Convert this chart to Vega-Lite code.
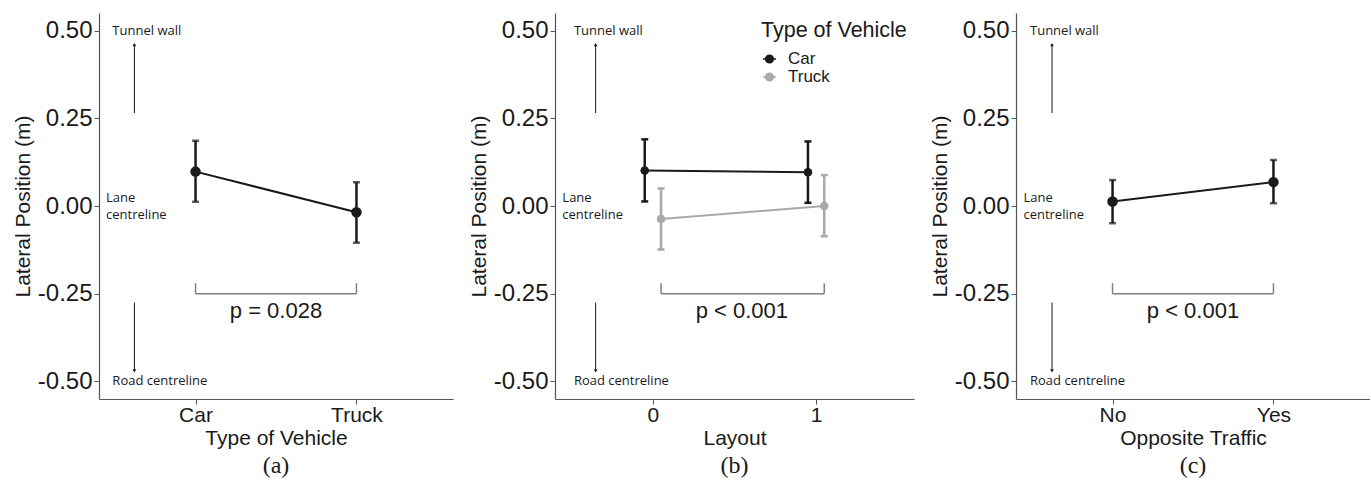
{
  "$schema": "https://vega.github.io/schema/vega-lite/v6.json",
  "padding": {"left": 12, "top": 13, "right": 0, "bottom": 0},
  "background": "white",
  "spacing": 15,
  "datasets": {
    "a_means": [
      {"vehicle": "Car", "x": 1, "mean": 0.098, "lo": 0.012, "hi": 0.186},
      {"vehicle": "Truck", "x": 2, "mean": -0.018, "lo": -0.105, "hi": 0.068}
    ],
    "a_text": [
      {"x": 0.483, "y": 0.5, "label": "Tunnel wall"},
      {"x": 0.483, "y": -0.5, "label": "Road centreline"},
      {"x": 0.444, "y": 0.024, "label": "Lane"},
      {"x": 0.444, "y": -0.026, "label": "centreline"}
    ],
    "a_arrows": [
      {"x": 0.62, "y": 0.265, "y2": 0.46, "dir": "up"},
      {"x": 0.62, "y": -0.275, "y2": -0.47, "dir": "down"}
    ],
    "a_bracket": [
      {"x": 1, "x2": 2, "y": -0.25, "y2": -0.25},
      {"x": 1, "x2": 1, "y": -0.25, "y2": -0.22},
      {"x": 2, "x2": 2, "y": -0.25, "y2": -0.22}
    ],
    "a_p": [{"x": 1.5, "y": -0.30, "label": "p = 0.028"}],
    "b_means": [
      {"vehicle": "Car", "layout": 0, "x": -0.05, "mean": 0.101, "lo": 0.013, "hi": 0.19},
      {"vehicle": "Car", "layout": 1, "x": 0.95, "mean": 0.096, "lo": 0.009, "hi": 0.184},
      {"vehicle": "Truck", "layout": 0, "x": 0.05, "mean": -0.037, "lo": -0.124, "hi": 0.05},
      {"vehicle": "Truck", "layout": 1, "x": 1.05, "mean": 0.0, "lo": -0.086, "hi": 0.088}
    ],
    "b_text": [
      {"x": -0.484, "y": 0.5, "label": "Tunnel wall"},
      {"x": -0.484, "y": -0.5, "label": "Road centreline"},
      {"x": -0.555, "y": 0.024, "label": "Lane"},
      {"x": -0.555, "y": -0.026, "label": "centreline"}
    ],
    "b_arrows": [
      {"x": -0.351, "y": 0.265, "y2": 0.46, "dir": "up"},
      {"x": -0.351, "y": -0.275, "y2": -0.47, "dir": "down"}
    ],
    "b_bracket": [
      {"x": 0.05, "x2": 1.05, "y": -0.25, "y2": -0.25},
      {"x": 0.05, "x2": 0.05, "y": -0.25, "y2": -0.22},
      {"x": 1.05, "x2": 1.05, "y": -0.25, "y2": -0.22}
    ],
    "b_p": [{"x": 0.545, "y": -0.30, "label": "p < 0.001"}],
    "c_means": [
      {"traffic": "No", "x": 1, "mean": 0.013, "lo": -0.049, "hi": 0.074},
      {"traffic": "Yes", "x": 2, "mean": 0.068, "lo": 0.008, "hi": 0.131}
    ],
    "c_text": [
      {"x": 0.487, "y": 0.5, "label": "Tunnel wall"},
      {"x": 0.487, "y": -0.5, "label": "Road centreline"},
      {"x": 0.446, "y": 0.024, "label": "Lane"},
      {"x": 0.446, "y": -0.026, "label": "centreline"}
    ],
    "c_arrows": [
      {"x": 0.624, "y": 0.265, "y2": 0.46, "dir": "up"},
      {"x": 0.624, "y": -0.275, "y2": -0.47, "dir": "down"}
    ],
    "c_bracket": [
      {"x": 1, "x2": 2, "y": -0.25, "y2": -0.25},
      {"x": 1, "x2": 1, "y": -0.25, "y2": -0.22},
      {"x": 2, "x2": 2, "y": -0.25, "y2": -0.22}
    ],
    "c_p": [{"x": 1.5, "y": -0.30, "label": "p < 0.001"}]
  },
  "hconcat": [
    {
      "width": 354,
      "height": 386,
      "title": {"text": "(a)", "orient": "bottom", "frame": "group", "anchor": "middle", "font": "Liberation Serif", "fontSize": 24, "fontWeight": "normal", "color": "#1a1a1a", "offset": 6},
      "layer": [
        {
          "mark": {"type": "rule", "strokeDash": [6, 4], "color": "#444", "strokeWidth": 1.2},
          "encoding": {
            "y": {"datum": 0, "type": "quantitative", "scale": {"domain": [-0.55, 0.55], "nice": false, "zero": false},
              "axis": {"title": "Lateral Position (m)", "values": [-0.5, -0.25, 0, 0.25, 0.5], "labelExpr": "datum.value < 0 ? '-' + format(-datum.value, '.2f') : format(datum.value, '.2f')"}}
          }
        },
        {
          "data": {"name": "a_arrows"},
          "mark": {"type": "rule", "color": "#1a1a1a", "strokeWidth": 1},
          "encoding": {
            "x": {"field": "x", "type": "quantitative", "scale": {"domain": [0.4, 2.6], "nice": false, "zero": false},
              "axis": {"title": "Type of Vehicle", "values": [1, 2], "labelExpr": "datum.value == 1 ? 'Car' : 'Truck'"}},
            "y": {"field": "y", "type": "quantitative"},
            "y2": {"field": "y2"}
          }
        },
        {
          "data": {"name": "a_arrows"},
          "mark": {"type": "point", "filled": true, "color": "#1a1a1a", "size": 14, "opacity": 1},
          "encoding": {
            "x": {"field": "x", "type": "quantitative"},
            "y": {"field": "y2", "type": "quantitative"},
            "shape": {"field": "dir", "type": "nominal", "scale": {"domain": ["up", "down"], "range": ["triangle-up", "triangle-down"]}, "legend": null}
          }
        },
        {
          "data": {"name": "a_text"},
          "mark": {"type": "text", "align": "left", "baseline": "middle", "font": "Open Sans", "fontSize": 13, "color": "#1a1a1a"},
          "encoding": {
            "x": {"field": "x", "type": "quantitative"},
            "y": {"field": "y", "type": "quantitative"},
            "text": {"field": "label"}
          }
        },
        {
          "data": {"name": "a_bracket"},
          "mark": {"type": "rule", "color": "#808080", "strokeWidth": 1.5},
          "encoding": {
            "x": {"field": "x", "type": "quantitative"},
            "x2": {"field": "x2"},
            "y": {"field": "y", "type": "quantitative"},
            "y2": {"field": "y2"}
          }
        },
        {
          "data": {"name": "a_p"},
          "mark": {"type": "text", "align": "center", "baseline": "middle", "font": "Liberation Sans", "fontSize": 22, "color": "#1a1a1a"},
          "encoding": {
            "x": {"field": "x", "type": "quantitative"},
            "y": {"field": "y", "type": "quantitative"},
            "text": {"field": "label"}
          }
        },
        {
          "data": {"name": "a_means"},
          "mark": {"type": "rule", "color": "#1a1a1a", "strokeWidth": 2.5},
          "encoding": {
            "x": {"field": "x", "type": "quantitative"},
            "y": {"field": "lo", "type": "quantitative"},
            "y2": {"field": "hi"}
          }
        },
        {
          "data": {"name": "a_means"},
          "mark": {"type": "tick", "orient": "horizontal", "color": "#1a1a1a", "size": 7, "thickness": 2.5},
          "encoding": {
            "x": {"field": "x", "type": "quantitative"},
            "y": {"field": "lo", "type": "quantitative"}
          }
        },
        {
          "data": {"name": "a_means"},
          "mark": {"type": "tick", "orient": "horizontal", "color": "#1a1a1a", "size": 7, "thickness": 2.5},
          "encoding": {
            "x": {"field": "x", "type": "quantitative"},
            "y": {"field": "hi", "type": "quantitative"}
          }
        },
        {
          "data": {"name": "a_means"},
          "mark": {"type": "line", "color": "#1a1a1a", "strokeWidth": 2},
          "encoding": {
            "x": {"field": "x", "type": "quantitative"},
            "y": {"field": "mean", "type": "quantitative"}
          }
        },
        {
          "data": {"name": "a_means"},
          "mark": {"type": "circle", "color": "#1a1a1a", "size": 110, "opacity": 1},
          "encoding": {
            "x": {"field": "x", "type": "quantitative"},
            "y": {"field": "mean", "type": "quantitative"}
          }
        }
      ]
    },
    {
      "width": 359,
      "height": 386,
      "title": {"text": "(b)", "orient": "bottom", "frame": "group", "anchor": "middle", "font": "Liberation Serif", "fontSize": 24, "fontWeight": "normal", "color": "#1a1a1a", "offset": 6},
      "layer": [
        {
          "mark": {"type": "rule", "strokeDash": [6, 4], "color": "#444", "strokeWidth": 1.2},
          "encoding": {
            "y": {"datum": 0, "type": "quantitative", "scale": {"domain": [-0.55, 0.55], "nice": false, "zero": false},
              "axis": {"title": "Lateral Position (m)", "values": [-0.5, -0.25, 0, 0.25, 0.5], "labelExpr": "datum.value < 0 ? '-' + format(-datum.value, '.2f') : format(datum.value, '.2f')"}}
          }
        },
        {
          "data": {"name": "b_arrows"},
          "mark": {"type": "rule", "color": "#1a1a1a", "strokeWidth": 1},
          "encoding": {
            "x": {"field": "x", "type": "quantitative", "scale": {"domain": [-0.6, 1.6], "nice": false, "zero": false},
              "axis": {"title": "Layout", "values": [0, 1], "format": "d"}},
            "y": {"field": "y", "type": "quantitative"},
            "y2": {"field": "y2"}
          }
        },
        {
          "data": {"name": "b_arrows"},
          "mark": {"type": "point", "filled": true, "color": "#1a1a1a", "size": 14, "opacity": 1},
          "encoding": {
            "x": {"field": "x", "type": "quantitative"},
            "y": {"field": "y2", "type": "quantitative"},
            "shape": {"field": "dir", "type": "nominal", "scale": {"domain": ["up", "down"], "range": ["triangle-up", "triangle-down"]}, "legend": null}
          }
        },
        {
          "data": {"name": "b_text"},
          "mark": {"type": "text", "align": "left", "baseline": "middle", "font": "Open Sans", "fontSize": 13, "color": "#1a1a1a"},
          "encoding": {
            "x": {"field": "x", "type": "quantitative"},
            "y": {"field": "y", "type": "quantitative"},
            "text": {"field": "label"}
          }
        },
        {
          "data": {"name": "b_bracket"},
          "mark": {"type": "rule", "color": "#808080", "strokeWidth": 1.5},
          "encoding": {
            "x": {"field": "x", "type": "quantitative"},
            "x2": {"field": "x2"},
            "y": {"field": "y", "type": "quantitative"},
            "y2": {"field": "y2"}
          }
        },
        {
          "data": {"name": "b_p"},
          "mark": {"type": "text", "align": "center", "baseline": "middle", "font": "Liberation Sans", "fontSize": 22, "color": "#1a1a1a"},
          "encoding": {
            "x": {"field": "x", "type": "quantitative"},
            "y": {"field": "y", "type": "quantitative"},
            "text": {"field": "label"}
          }
        },
        {
          "data": {"name": "b_means"},
          "mark": {"type": "rule", "strokeWidth": 2.5},
          "encoding": {
            "x": {"field": "x", "type": "quantitative"},
            "y": {"field": "lo", "type": "quantitative"},
            "y2": {"field": "hi"},
            "color": {"field": "vehicle", "type": "nominal", "scale": {"domain": ["Car", "Truck"], "range": ["#1a1a1a", "#a9a9a9"]},
              "legend": {"title": "Type of Vehicle", "orient": "none", "legendX": 662, "legendY": 7, "titleFont": "Liberation Sans", "titleFontSize": 21.5, "titleFontWeight": "normal", "titleColor": "#1a1a1a", "titlePadding": 9, "labelFont": "Liberation Sans", "labelFontSize": 17, "labelColor": "#1a1a1a", "symbolType": "M-1,0 A1,1 0 1,1 1,0 A1,1 0 1,1 -1,0 Z M-1.7,0 L1.7,0", "symbolSize": 60, "symbolStrokeWidth": 1.5, "symbolFillColor": null, "rowPadding": 0, "labelOffset": 10, "symbolOffset": 0}}
          }
        },
        {
          "data": {"name": "b_means"},
          "mark": {"type": "tick", "orient": "horizontal", "size": 7, "thickness": 2.5, "opacity": 1},
          "encoding": {
            "x": {"field": "x", "type": "quantitative"},
            "y": {"field": "lo", "type": "quantitative"},
            "color": {"field": "vehicle", "type": "nominal"}
          }
        },
        {
          "data": {"name": "b_means"},
          "mark": {"type": "tick", "orient": "horizontal", "size": 7, "thickness": 2.5, "opacity": 1},
          "encoding": {
            "x": {"field": "x", "type": "quantitative"},
            "y": {"field": "hi", "type": "quantitative"},
            "color": {"field": "vehicle", "type": "nominal"}
          }
        },
        {
          "data": {"name": "b_means"},
          "mark": {"type": "line", "strokeWidth": 2},
          "encoding": {
            "x": {"field": "x", "type": "quantitative"},
            "y": {"field": "mean", "type": "quantitative"},
            "color": {"field": "vehicle", "type": "nominal"}
          }
        },
        {
          "data": {"name": "b_means"},
          "mark": {"type": "circle", "size": 75, "opacity": 1},
          "encoding": {
            "x": {"field": "x", "type": "quantitative"},
            "y": {"field": "mean", "type": "quantitative"},
            "color": {"field": "vehicle", "type": "nominal"}
          }
        }
      ]
    },
    {
      "width": 354,
      "height": 386,
      "title": {"text": "(c)", "orient": "bottom", "frame": "group", "anchor": "middle", "font": "Liberation Serif", "fontSize": 24, "fontWeight": "normal", "color": "#1a1a1a", "offset": 6},
      "layer": [
        {
          "mark": {"type": "rule", "strokeDash": [6, 4], "color": "#444", "strokeWidth": 1.2},
          "encoding": {
            "y": {"datum": 0, "type": "quantitative", "scale": {"domain": [-0.55, 0.55], "nice": false, "zero": false},
              "axis": {"title": "Lateral Position (m)", "values": [-0.5, -0.25, 0, 0.25, 0.5], "labelExpr": "datum.value < 0 ? '-' + format(-datum.value, '.2f') : format(datum.value, '.2f')"}}
          }
        },
        {
          "data": {"name": "c_arrows"},
          "mark": {"type": "rule", "color": "#1a1a1a", "strokeWidth": 1},
          "encoding": {
            "x": {"field": "x", "type": "quantitative", "scale": {"domain": [0.4, 2.6], "nice": false, "zero": false},
              "axis": {"title": "Opposite Traffic", "values": [1, 2], "labelExpr": "datum.value == 1 ? 'No' : 'Yes'"}},
            "y": {"field": "y", "type": "quantitative"},
            "y2": {"field": "y2"}
          }
        },
        {
          "data": {"name": "c_arrows"},
          "mark": {"type": "point", "filled": true, "color": "#1a1a1a", "size": 14, "opacity": 1},
          "encoding": {
            "x": {"field": "x", "type": "quantitative"},
            "y": {"field": "y2", "type": "quantitative"},
            "shape": {"field": "dir", "type": "nominal", "scale": {"domain": ["up", "down"], "range": ["triangle-up", "triangle-down"]}, "legend": null}
          }
        },
        {
          "data": {"name": "c_text"},
          "mark": {"type": "text", "align": "left", "baseline": "middle", "font": "Open Sans", "fontSize": 13, "color": "#1a1a1a"},
          "encoding": {
            "x": {"field": "x", "type": "quantitative"},
            "y": {"field": "y", "type": "quantitative"},
            "text": {"field": "label"}
          }
        },
        {
          "data": {"name": "c_bracket"},
          "mark": {"type": "rule", "color": "#808080", "strokeWidth": 1.5},
          "encoding": {
            "x": {"field": "x", "type": "quantitative"},
            "x2": {"field": "x2"},
            "y": {"field": "y", "type": "quantitative"},
            "y2": {"field": "y2"}
          }
        },
        {
          "data": {"name": "c_p"},
          "mark": {"type": "text", "align": "center", "baseline": "middle", "font": "Liberation Sans", "fontSize": 22, "color": "#1a1a1a"},
          "encoding": {
            "x": {"field": "x", "type": "quantitative"},
            "y": {"field": "y", "type": "quantitative"},
            "text": {"field": "label"}
          }
        },
        {
          "data": {"name": "c_means"},
          "mark": {"type": "rule", "color": "#1a1a1a", "strokeWidth": 2.5},
          "encoding": {
            "x": {"field": "x", "type": "quantitative"},
            "y": {"field": "lo", "type": "quantitative"},
            "y2": {"field": "hi"}
          }
        },
        {
          "data": {"name": "c_means"},
          "mark": {"type": "tick", "orient": "horizontal", "color": "#1a1a1a", "size": 7, "thickness": 2.5},
          "encoding": {
            "x": {"field": "x", "type": "quantitative"},
            "y": {"field": "lo", "type": "quantitative"}
          }
        },
        {
          "data": {"name": "c_means"},
          "mark": {"type": "tick", "orient": "horizontal", "color": "#1a1a1a", "size": 7, "thickness": 2.5},
          "encoding": {
            "x": {"field": "x", "type": "quantitative"},
            "y": {"field": "hi", "type": "quantitative"}
          }
        },
        {
          "data": {"name": "c_means"},
          "mark": {"type": "line", "color": "#1a1a1a", "strokeWidth": 2},
          "encoding": {
            "x": {"field": "x", "type": "quantitative"},
            "y": {"field": "mean", "type": "quantitative"}
          }
        },
        {
          "data": {"name": "c_means"},
          "mark": {"type": "circle", "color": "#1a1a1a", "size": 110, "opacity": 1},
          "encoding": {
            "x": {"field": "x", "type": "quantitative"},
            "y": {"field": "mean", "type": "quantitative"}
          }
        }
      ]
    }
  ],
  "config": {
    "view": {"stroke": null},
    "axis": {"grid": false, "domainColor": "#555555", "tickColor": "#555555", "labelFont": "Liberation Sans", "titleFont": "Liberation Sans", "labelColor": "#1a1a1a", "titleColor": "#1a1a1a", "titleFontWeight": "normal", "tickSize": 5, "domainWidth": 1.2},
    "axisY": {"labelFontSize": 24, "titleFontSize": 21, "labelPadding": 2, "titlePadding": 4},
    "axisX": {"labelFontSize": 21, "titleFontSize": 21, "labelPadding": 0, "titlePadding": 2}
  }
}
